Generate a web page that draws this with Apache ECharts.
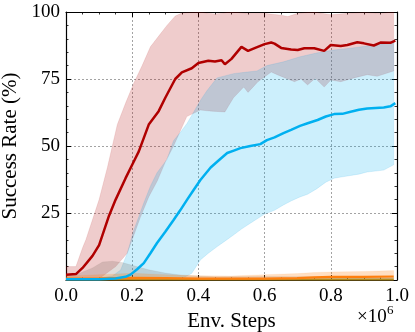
<!DOCTYPE html>
<html>
<head>
<meta charset="utf-8">
<script src="https://cdn.jsdelivr.net/npm/echarts@6/dist/echarts.min.js"></script>
<style>html,body{margin:0;padding:0;background:#fff;}#c{width:415px;height:332px;}</style>
</head>
<body>
<div id="c"></div>
<script>
// ---- data (x in units of 1e6 env steps, y in %) ----
const xTicks = [0, 0.2, 0.4, 0.6, 0.8, 1.0];
const yTicks = [0, 25, 50, 75, 100];

const redMeanX = [0,0.03,0.05,0.08,0.1,0.13,0.15,0.18,0.2,0.22,0.25,0.28,0.3,0.33,0.35,0.38,0.4,0.43,0.45,0.47,0.48,0.5,0.53,0.55,0.57,0.6,0.62,0.63,0.65,0.68,0.7,0.72,0.75,0.78,0.8,0.83,0.85,0.88,0.9,0.93,0.95,0.98,0.995];
const redMean  = [2,2.2,4.5,9,13,24,30,38,43,48,58,63,68,75,77.5,79,81,81.8,81.5,82,80.5,82.5,87,85.5,86.5,88,88.6,88.2,86.6,86,85.8,86.5,86.5,85.5,87.7,87.3,87.7,88.7,88.3,87.5,88.6,88.5,89.3];
const redUpX   = [0,0.03,0.05,0.06,0.1,0.125,0.155,0.18,0.205,0.23,0.255,0.28,0.305,0.33,0.35,0.4,0.45,0.5,0.55,0.6,0.65,0.67,0.7,0.75,0.8,0.85,0.9,0.95,0.99];
const redUp    = [5,5,12,15,30,42,58,66,73.5,80,87,91,95,98.5,99.6,100,99.3,100,99.5,99.5,98.8,98.3,99.5,100,99,99.5,99.8,99.5,100];
const redLoX   = [0,0.1,0.15,0.185,0.225,0.25,0.276,0.3,0.325,0.365,0.406,0.44,0.48,0.506,0.537,0.55,0.58,0.62,0.64,0.69,0.71,0.73,0.753,0.78,0.8,0.83,0.87,0.91,0.94,0.99];
const redLo    = [0.5,0.5,5,10,23.5,31,37,44,50,61,63.4,63,62.7,68,72,70,74,77.6,76.5,74,75,72.8,75.3,72,74.6,74,75.4,76.6,76,78];

const blueMeanX = [0,0.1,0.15,0.18,0.195,0.215,0.235,0.255,0.275,0.3,0.325,0.345,0.366,0.385,0.406,0.437,0.46,0.487,0.507,0.527,0.557,0.587,0.607,0.63,0.657,0.68,0.707,0.73,0.76,0.785,0.81,0.835,0.86,0.885,0.91,0.935,0.96,0.98,0.995];
const blueMean  = [0.3,0.3,0.6,1.2,2,4,6.3,10,13.8,18,22.4,26,30,33.5,37.3,42,44.5,47.4,48.3,49.2,50,50.7,52.2,53.2,54.8,56,57.5,58.5,59.7,61,61.9,62,62.8,63.5,64,64.2,64.4,64.8,66];
const blueUpX   = [0,0.1,0.14,0.165,0.185,0.205,0.235,0.255,0.275,0.305,0.325,0.345,0.366,0.385,0.406,0.425,0.456,0.506,0.54,0.577,0.607,0.657,0.707,0.757,0.808,0.86,0.91,0.97,0.99];
const blueUp    = [0.5,0.7,1.5,3.7,10,18.6,28.7,35,40,45,52,55,58.5,62.5,67,70.5,75.4,77,77.5,78,80,81.4,83.3,84.7,85.8,86.5,87.3,88.3,89.5];
const blueLoX   = [0,0.3,0.35,0.38,0.406,0.43,0.456,0.48,0.506,0.53,0.557,0.6,0.63,0.657,0.68,0.707,0.73,0.757,0.785,0.81,0.835,0.86,0.885,0.91,0.96,0.99];
const blueLo    = [0,0,0.5,2.5,7.5,10,12.4,14.5,16.8,19,21.2,24.6,26,28,29.5,31,32,34,36.5,38,38.5,39,39.5,40.3,41,43];

const grayUpX = [0,0.03,0.08,0.11,0.14,0.17,0.2,0.25,0.3,0.35,0.45,0.6,0.8,0.99];
const grayUp  = [2,2,4.5,6.7,7,6.5,5.5,3.8,2.6,1.8,1.2,1.3,1.2,1.2];
const grayLoX = [0,0.99];
const grayLo  = [0,0];

const orangeX    = [0,0.1,0.2,0.3,0.4,0.5,0.6,0.7,0.75,0.8,0.9,0.99];
const orangeMean = [0.5,0.6,0.8,0.7,0.5,0.5,0.5,0.7,1.0,1.2,1.2,1.3];
const orangeUp   = [1.5,2,2.5,2,1.6,1.5,2,2.4,2.8,3,3.2,3.5];
const orangeLo   = [0,0,0,0,0,0,0,0,0,0,0,0];

const oliveX    = [0,0.5,0.99];
const oliveMean = [0.2,0.2,0.2];

const xName = 'Env. Steps';
const yName = 'Success Rate (%)';
const xScale = ['×10', '6'];

// ---- helpers ----
const pairs = (xs, ys) => xs.map((x, i) => [x, ys[i]]);
function band(upX, up, loX, lo, fill, stroke, z) {
  return {
    type: 'custom', z: z, silent: true, clip: true,
    data: [[0, 0]],
    renderItem: function (params, api) {
      const pts = [];
      for (let i = 0; i < upX.length; i++) pts.push(api.coord([upX[i], up[i]]));
      for (let i = loX.length - 1; i >= 0; i--) pts.push(api.coord([loX[i], lo[i]]));
      return { type: 'polygon', shape: { points: pts }, style: { fill: fill, stroke: stroke, lineWidth: 0.8 } };
    }
  };
}
function line(xs, ys, color, width, z) {
  return { type: 'line', z: z, data: pairs(xs, ys), showSymbol: false, symbol: 'none', silent: true,
    lineStyle: { color: color, width: width }, clip: true };
}

const FONT = 'Liberation Serif';
const chart = echarts.init(document.getElementById('c'), null, { renderer: 'canvas' });
const axisLine = { show: true, onZero: false, lineStyle: { color: '#000', width: 1.2 } };
const axisTick = { show: true, inside: true, length: 5, lineStyle: { color: '#000', width: 1 } };
const xMinor = { show: true, splitNumber: 4, length: 2.5, lineStyle: { color: '#000', width: 0.8 } };
const yMinor = { show: true, splitNumber: 5, length: 2.5, lineStyle: { color: '#000', width: 0.8 } };
const grid = { color: '#8c8c8c', width: 0.8, type: [2, 2] };

chart.setOption({
  animation: false,
  backgroundColor: '#fff',
  grid: { left: 66, right: 18, top: 12, bottom: 52, outerBoundsMode: 'none', containLabel: false },
  xAxis: [
    {
      type: 'value', min: xTicks[0], max: xTicks[xTicks.length - 1], interval: 0.2, position: 'bottom',
      axisLine: axisLine, axisTick: axisTick, minorTick: xMinor,
      axisLabel: { margin: 7, color: '#000', fontFamily: FONT, fontSize: 19, formatter: v => v.toFixed(1) },
      splitLine: { show: true, lineStyle: grid },
      name: xName, nameLocation: 'middle', nameGap: 20,
      nameTextStyle: { color: '#000', fontFamily: FONT, fontSize: 21 }
    },
    {
      type: 'value', min: xTicks[0], max: xTicks[xTicks.length - 1], interval: 0.2, position: 'top',
      axisLine: axisLine, axisTick: axisTick, minorTick: xMinor,
      axisLabel: { show: false }, splitLine: { show: false }
    }
  ],
  yAxis: [
    {
      type: 'value', min: yTicks[0], max: yTicks[yTicks.length - 1], interval: 25, position: 'left',
      axisLine: axisLine, axisTick: axisTick, minorTick: yMinor,
      axisLabel: { margin: 6, color: '#000', fontFamily: FONT, fontSize: 19, formatter: v => (v === 0 ? '' : String(v)) },
      splitLine: { show: true, lineStyle: grid },
      name: yName, nameLocation: 'middle', nameGap: 34,
      nameTextStyle: { color: '#000', fontFamily: FONT, fontSize: 21 }
    },
    {
      type: 'value', min: yTicks[0], max: yTicks[yTicks.length - 1], interval: 25, position: 'right',
      axisLine: axisLine, axisTick: axisTick, minorTick: yMinor,
      axisLabel: { show: false }, splitLine: { show: false }
    }
  ],
  graphic: [
    { type: 'text', left: 357, top: 308, style: { text: xScale[0], fill: '#000', font: '19px "' + FONT + '"' } },
    { type: 'text', left: 387, top: 304, style: { text: xScale[1], fill: '#000', font: '13px "' + FONT + '"' } }
  ],
  series: [
    band(redUpX, redUp, redLoX, redLo, 'rgba(175,0,0,0.2)', 'rgba(175,0,0,0.12)', 1),
    band(blueUpX, blueUp, blueLoX, blueLo, 'rgba(0,176,240,0.2)', 'rgba(0,150,220,0.15)', 2),
    band(grayUpX, grayUp, grayLoX, grayLo, 'rgba(120,100,90,0.22)', 'rgba(120,100,90,0.1)', 3),
    band(orangeX, orangeUp, orangeX, orangeLo, 'rgba(255,127,14,0.25)', 'rgba(255,127,14,0.1)', 3),
    line(oliveX, oliveMean, '#b08a1e', 2, 4),
    line(orangeX, orangeMean, '#ff7f0e', 2.2, 5),
    line(blueMeanX, blueMean, '#00b0f0', 2.5, 6),
    line(redMeanX, redMean, '#b00000', 2.5, 7)
  ]
});
</script>
</body>
</html>
